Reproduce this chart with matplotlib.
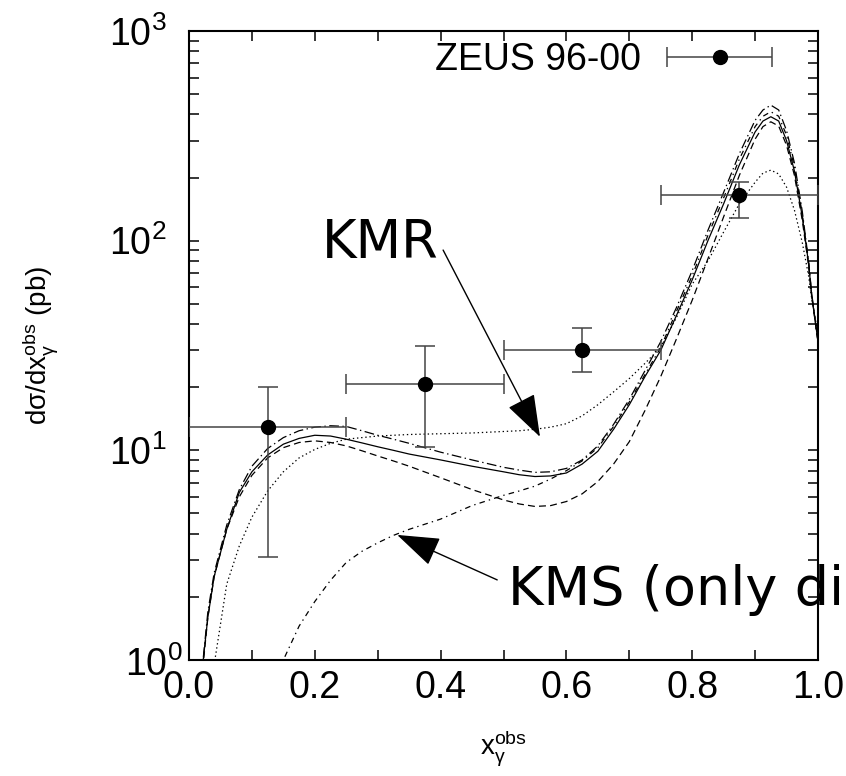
import numpy as np
import matplotlib
matplotlib.use('Agg')
import matplotlib.pyplot as plt
from matplotlib.container import ErrorbarContainer
from matplotlib.legend_handler import HandlerErrorbar
from matplotlib.ticker import LogLocator, NullFormatter, MultipleLocator, FormatStrFormatter
import matplotlib.transforms as mtransforms

plt.rcParams['font.family'] = ['Liberation Sans', 'DejaVu Sans']
plt.rcParams['mathtext.fontset'] = 'custom'
plt.rcParams['mathtext.rm'] = 'Liberation Sans'
plt.rcParams['mathtext.it'] = 'Liberation Sans:italic'
plt.rcParams['mathtext.bf'] = 'Liberation Sans:bold'
plt.rcParams['mathtext.sf'] = 'Liberation Sans'
plt.rcParams['mathtext.default'] = 'regular'
plt.rcParams['lines.scale_dashes'] = False

# ---------------- data ----------------
data_x = [0.125, 0.375, 0.625, 0.875]
data_y = [12.9, 20.7, 30.1, 165.0]
data_xerr = [0.125, 0.125, 0.125, 0.125]
data_yerr_lo = [9.8, 10.3, 6.5, 37.0]
data_yerr_hi = [7.1, 10.7, 8.2, 25.0]
legend_label = "ZEUS 96-00"

curve_x = [0.02, 0.03, 0.04, 0.06, 0.08, 0.10, 0.125, 0.15, 0.175, 0.20, 0.225,
           0.25, 0.275, 0.30, 0.325, 0.35, 0.40, 0.45, 0.50, 0.525, 0.55, 0.575,
           0.60, 0.625, 0.65, 0.675, 0.70, 0.725, 0.75, 0.775,
           0.80, 0.825, 0.85, 0.875, 0.90, 0.9125, 0.925, 0.9375, 0.95, 0.9625,
           0.975, 0.985, 0.99, 1.0]

solid = [0.85, 1.6, 2.5, 4.2, 6.3, 7.9, 9.5, 10.7, 11.4, 11.8, 11.7,
         11.3, 10.85, 10.4, 10.0, 9.6, 9.0, 8.4, 7.9, 7.65, 7.5, 7.55,
         7.8, 8.6, 9.9, 12.6, 16.5, 22.5, 30, 44,
         65, 100, 150, 230, 330, 372, 390, 372, 300, 215,
         130, 78, 55, 33]

dashdot_upper = [0.85, 1.7, 2.6, 4.4, 6.5, 8.4, 10.2, 11.5, 12.4, 12.9, 13.1,
                 13.0, 12.4, 11.8, 11.3, 10.8, 9.8, 9.0, 8.3, 8.05, 7.85, 7.9,
                 8.2, 9.0, 10.5, 13.3, 17.5, 24, 33, 48,
                 72, 112, 170, 260, 375, 420, 443, 420, 335, 235,
                 138, 80, 56, 33]

dashed = [0.8, 1.6, 2.5, 4.2, 6.0, 7.6, 9.2, 10.3, 10.9, 11.1, 10.9,
          10.5, 9.95, 9.4, 8.9, 8.4, 7.4, 6.5, 5.8, 5.55, 5.4, 5.45,
          5.7, 6.2, 7.1, 8.6, 11.0, 15.5, 22.5, 34,
          52, 82, 130, 205, 305, 350, 369, 352, 285, 205,
          125, 76, 54, 33]

kmr_dotted = [0.25, 0.5, 0.95, 2.3, 3.5, 4.8, 6.4, 7.9, 9.2, 10.1, 10.8,
              11.3, 11.5, 11.7, 11.8, 11.9, 12.0, 12.1, 12.3, 12.4, 12.6, 12.9,
              13.4, 14.6, 16.5, 19, 22, 26, 31, 43,
              62, 80, 110, 150, 190, 210, 217, 208, 180, 140,
              98, 68, 53, 36]

kms_dashdot = [np.nan, np.nan, np.nan, np.nan, np.nan, np.nan, 0.65, 1.0, 1.45, 1.9, 2.4,
               2.92, 3.3, 3.62, 3.93, 4.2, 4.7, 5.45, 6.1, 6.4, 6.75, 7.3,
               8.0, 8.9, 10.3, 13, 17, 23, 31, 46,
               68, 106, 160, 245, 350, 392, 412, 392, 318, 225,
               134, 79, 55, 33]

# ---------------- figure ----------------
fig = plt.figure(figsize=(8.46, 7.76), dpi=100)
ax = fig.add_axes([189 / 846, 116 / 776, 629 / 846, 629 / 776])

lw = 0.9
ax.plot(curve_x, solid, color='black', lw=lw, linestyle='-')
ax.plot(curve_x, dashdot_upper, color='black', lw=lw, linestyle=(0, (7, 2.5, 1, 2.5)))
ax.plot(curve_x, dashed, color='black', lw=lw, linestyle=(0, (5, 3)))
ax.plot(curve_x, kmr_dotted, color='black', lw=lw, linestyle=(0, (1, 2)))
ax.plot(curve_x, kms_dashdot, color='black', lw=lw, linestyle=(0, (4, 3, 1, 3)))

yerr = [data_yerr_lo, data_yerr_hi]
ax.errorbar(data_x, data_y, xerr=data_xerr, yerr=yerr, fmt='o', color='black',
            ecolor='#444444', elinewidth=1.1, capsize=7, capthick=1.1,
            markersize=10, zorder=5)

# legend proxy (x error bar only)
ax.errorbar([np.nan], [np.nan], xerr=[0.1], fmt='o', color='black',
            ecolor='#444444', elinewidth=1.1, capsize=7, capthick=1.1,
            markersize=10, label=legend_label)
leg = ax.legend(loc='center right', bbox_to_anchor=(0.9285, 0.954),
                frameon=False, markerfirst=False, fontsize=27,
                handlelength=2.85, handletextpad=0.68, borderpad=0,
                borderaxespad=0,
                handler_map={ErrorbarContainer: HandlerErrorbar(xerr_size=1.4)})

ax.set_yscale('log')
ax.set_xlim(0, 1)
ax.set_ylim(1, 1000)

ax.xaxis.set_major_locator(MultipleLocator(0.2))
ax.xaxis.set_minor_locator(MultipleLocator(0.1))
ax.xaxis.set_major_formatter(FormatStrFormatter('%.1f'))
ax.yaxis.set_major_locator(LogLocator(base=10))
ax.yaxis.set_minor_locator(LogLocator(base=10, subs=np.arange(2, 10)))
ax.yaxis.set_minor_formatter(NullFormatter())

ax.tick_params(which='both', direction='in', top=True, right=True,
               length=7, width=1.1, labelsize=27)
ax.tick_params(axis='y', which='both', pad=16)
ax.tick_params(axis='x', which='both', pad=7)
for s in ax.spines.values():
    s.set_linewidth(1.5)

ax.set_xlabel(r'x$_{\mathrm{\gamma}}^{\mathrm{obs}}$', fontsize=20)
ax.set_ylabel(r'dσ/dx$_{\mathrm{\gamma}}^{\mathrm{obs}}$ (pb)', fontsize=20)
ax.xaxis.set_label_coords(0.5, -0.108)
ax.yaxis.set_label_coords(-0.205, 0.5)

# annotations
ax.text(0.211, 82.6, 'KMR', fontsize=38, family='DejaVu Sans', va='baseline', ha='left')
ax.annotate('', xy=(0.558, 11.6), xytext=(0.404, 90.2),
            arrowprops=dict(arrowstyle='-|>,head_length=1.35,head_width=0.47',
                            mutation_scale=20, color='black', lw=1.0,
                            shrinkA=0, shrinkB=0))
ax.text(0.507, 1.83, 'KMS (only direct)', fontsize=39, family='DejaVu Sans',
        va='baseline', ha='left', clip_on=False)
ax.annotate('', xy=(0.331, 3.95), xytext=(0.490, 2.41),
            arrowprops=dict(arrowstyle='-|>,head_length=1.35,head_width=0.47',
                            mutation_scale=20, color='black', lw=1.0,
                            shrinkA=0, shrinkB=0))

# the 10^0 label sits a little to the right in the original
fig.canvas.draw()
for t in ax.yaxis.get_major_ticks():
    if abs(t.get_loc() - 1.0) < 1e-9:
        off = mtransforms.ScaledTranslation(16 / 100, -1 / 100, fig.dpi_scale_trans)
        t.label1.set_transform(t.label1.get_transform() + off)

fig.savefig('out.png', dpi=100)
